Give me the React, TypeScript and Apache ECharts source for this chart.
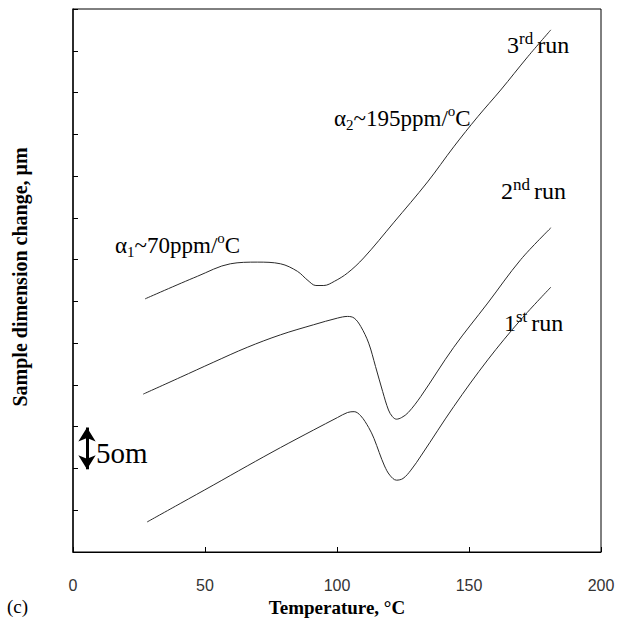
import React, { useEffect, useRef } from "react";
import * as echarts from "echarts";

// Temperature (°C) and sample dimension change (µm) for the three heating runs
const run1Temp = [28.1, 40.6, 53.1, 66.0, 78.6, 91.1, 100.2, 104.0, 106.5, 109.0, 112.0, 114.0, 116.0, 118.0, 120.0, 122.5, 125.0, 128.0, 132.0, 144.2, 157.1, 169.6, 181.0];
const run1Change = [3.6, 5.8, 8.0, 10.3, 12.5, 14.6, 16.1, 16.7, 16.8, 16.3, 14.9, 13.6, 11.9, 10.3, 9.2, 8.6, 8.8, 9.8, 11.6, 17.4, 23.0, 27.8, 31.7];

const run2Temp = [26.6, 40.6, 53.1, 66.0, 78.6, 91.1, 100.2, 104.0, 106.5, 109.0, 112.0, 114.6, 117.3, 119.5, 121.0, 122.5, 124.5, 127.0, 131.7, 144.2, 157.1, 169.6, 181.0];
const run2Change = [18.9, 20.9, 22.7, 24.5, 26.0, 27.2, 28.0, 28.2, 28.0, 27.0, 25.0, 22.2, 19.2, 17.0, 16.2, 15.9, 16.1, 16.7, 18.6, 24.5, 29.8, 35.0, 38.8];

const run3Temp = [27.3, 47.1, 59.6, 69.8, 78.6, 85.0, 89.0, 92.0, 95.0, 99.0, 104.0, 110.1, 121.4, 134.3, 144.2, 153.3, 162.0, 172.3, 181.0];
const run3Change = [30.3, 33.0, 34.5, 34.7, 34.5, 33.6, 32.5, 31.9, 31.9, 32.4, 33.4, 35.2, 39.4, 44.3, 48.5, 52.1, 55.3, 59.3, 62.5];

const xTicks = [0, 50, 100, 150, 200];
const scaleBarTemp = 5.3;
const scaleBarRange = [9.9, 14.9]; // 5 µm

const SERIF = "'Liberation Serif', 'Times New Roman', serif";

const pairs = (xs: number[], ys: number[]) => xs.map((x, i) => [x, ys[i]]);

const annoRich = (size: number) => ({
  a: { fontSize: size, fontFamily: SERIF, lineHeight: size + 6, fill: "#000" },
  sub: { fontSize: Math.round(size * 0.65), fontFamily: SERIF, verticalAlign: "bottom", fill: "#000", lineHeight: size + 6 },
  sup: { fontSize: Math.round(size * 0.65), fontFamily: SERIF, verticalAlign: "top", fill: "#000", lineHeight: size + 6 },
  run: { fontSize: Math.round(size * 0.72), fontFamily: SERIF, verticalAlign: "top", fill: "#000", lineHeight: size + 6, padding: [0, 4, 0, 0] },
});

export default function App() {
  const ref = useRef<HTMLDivElement>(null);

  useEffect(() => {
    if (!ref.current) return;
    const chart = echarts.init(ref.current, null, { renderer: "svg" });
    const lineStyle = { color: "#2a2a2a", width: 1 };

    const textEl = (x: number, y: number, text: string, size: number) => ({
      type: "text",
      x,
      y,
      style: {
        text,
        rich: annoRich(size),
        verticalAlign: "middle",
        align: "left",
      },
    });

    chart.setOption({
      animation: false,
      backgroundColor: "#fff",
      grid: {
        left: 73,
        right: 25,
        top: 9,
        bottom: 73,
        show: true,
        borderColor: "#000",
        borderWidth: 1,
      },
      xAxis: {
        type: "value",
        min: xTicks[0],
        max: xTicks[xTicks.length - 1],
        interval: 50,
        axisLine: { lineStyle: { color: "#000", width: 1 } },
        axisTick: { inside: true, length: 5, lineStyle: { color: "#000" } },
        splitLine: { show: false },
        axisLabel: {
          margin: 25,
          fontSize: 16,
          fontFamily: "'Liberation Sans', Arial, sans-serif",
          color: "#333",
        },
        name: "Temperature, °C",
        nameLocation: "middle",
        nameGap: 44,
        nameTextStyle: {
          fontFamily: SERIF,
          fontWeight: "bold",
          fontSize: 19,
          color: "#000",
        },
      },
      yAxis: {
        type: "value",
        min: 0,
        max: 65,
        interval: 5,
        axisLine: { lineStyle: { color: "#111", width: 1.5 } },
        axisTick: { inside: true, length: 5, lineStyle: { color: "#000" } },
        splitLine: { show: false },
        axisLabel: { show: false },
      },
      series: [
        {
          name: "1st run",
          type: "line",
          data: pairs(run1Temp, run1Change),
          smooth: 0.35,
          showSymbol: false,
          lineStyle,
        },
        {
          name: "2nd run",
          type: "line",
          data: pairs(run2Temp, run2Change),
          smooth: 0.35,
          showSymbol: false,
          lineStyle,
        },
        {
          name: "3rd run",
          type: "line",
          data: pairs(run3Temp, run3Change),
          smooth: 0.35,
          showSymbol: false,
          lineStyle,
          markLine: {
            silent: true,
            symbol: ["arrow", "arrow"],
            symbolSize: [13, 14],
            label: { show: false },
            lineStyle: { color: "#000", width: 3, type: "solid" },
            data: [
              [
                { coord: [scaleBarTemp, scaleBarRange[0]] },
                { coord: [scaleBarTemp, scaleBarRange[1]] },
              ],
            ],
          },
        },
      ],
      graphic: [
        {
          type: "text",
          x: 20,
          y: 277,
          rotation: Math.PI / 2,
          style: {
            text: "Sample dimension change, μm",
            font: `bold 20px ${SERIF}`,
            fill: "#000",
            align: "center",
            verticalAlign: "middle",
          },
        },
        {
          type: "text",
          x: 7,
          y: 606,
          style: {
            text: "(c)",
            font: `19px ${SERIF}`,
            fill: "#000",
            align: "left",
            verticalAlign: "middle",
          },
        },
        {
          type: "text",
          x: 96,
          y: 453,
          style: {
            text: "5om",
            font: `29px ${SERIF}`,
            fill: "#000",
            align: "left",
            verticalAlign: "middle",
          },
        },
        textEl(115, 245, "{a|α}{sub|1}{a|~70ppm/}{sup|o}{a|C}", 23),
        textEl(334, 118, "{a|α}{sub|2}{a|~195ppm/}{sup|o}{a|C}", 23),
        textEl(507, 45, "{a|3}{run|rd}{a|run}", 24),
        textEl(501, 191, "{a|2}{run|nd}{a|run}", 24),
        textEl(504, 323, "{a|1}{run|st}{a|run}", 24),
      ],
    });

    return () => chart.dispose();
  }, []);

  return (
    <div
      ref={ref}
      style={{ position: "fixed", left: 0, top: 0, width: 626, height: 625, background: "#fff" }}
    />
  );
}
